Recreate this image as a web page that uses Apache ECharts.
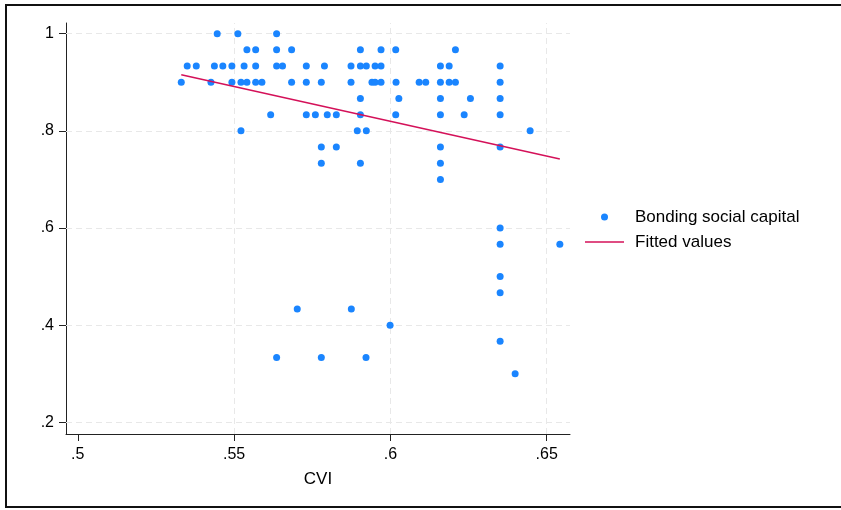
<!DOCTYPE html>
<html>
<head>
<meta charset="utf-8">
<script src="https://cdn.jsdelivr.net/npm/echarts@6/dist/echarts.min.js"></script>
<style>html,body{margin:0;padding:0;background:#fff;}#c{width:841px;height:510px;}</style>
</head>
<body>
<div id="c"></div>
<script>
// CVI (x) and Bonding social capital (y)
const cviValues = [
  0.5446, 0.5512, 0.5636,
  0.5541, 0.5569, 0.5636, 0.5684, 0.5904, 0.5970, 0.6017, 0.6208,
  0.5350, 0.5379, 0.5437, 0.5464, 0.5493, 0.5532, 0.5569, 0.5636, 0.5655, 0.5731, 0.5789, 0.5874, 0.5904, 0.5923, 0.5951, 0.5970, 0.6160, 0.6188, 0.6351,
  0.5331, 0.5426, 0.5493, 0.5522, 0.5541, 0.5569, 0.5589, 0.5684, 0.5731, 0.5779, 0.5874, 0.5941, 0.5951, 0.5970, 0.6018, 0.6092, 0.6113, 0.6160, 0.6188, 0.6208, 0.6351,
  0.5904, 0.6027, 0.6160, 0.6256, 0.6351,
  0.5617, 0.5731, 0.5760, 0.5798, 0.5827, 0.5904, 0.6017, 0.6160, 0.6236, 0.6351,
  0.5522, 0.5894, 0.5923, 0.6447,
  0.5779, 0.5827, 0.6160, 0.6351,
  0.5779, 0.5904, 0.6160,
  0.6160,
  0.6351,
  0.6351, 0.6542,
  0.6351,
  0.6351,
  0.5702, 0.5875,
  0.5999,
  0.6351,
  0.5636, 0.5779, 0.5922,
  0.6399
];
const bondingValues = [
  1.0, 1.0, 1.0,
  0.9667, 0.9667, 0.9667, 0.9667, 0.9667, 0.9667, 0.9667, 0.9667,
  0.9333, 0.9333, 0.9333, 0.9333, 0.9333, 0.9333, 0.9333, 0.9333, 0.9333, 0.9333, 0.9333, 0.9333, 0.9333, 0.9333, 0.9333, 0.9333, 0.9333, 0.9333, 0.9333,
  0.9, 0.9, 0.9, 0.9, 0.9, 0.9, 0.9, 0.9, 0.9, 0.9, 0.9, 0.9, 0.9, 0.9, 0.9, 0.9, 0.9, 0.9, 0.9, 0.9, 0.9,
  0.8667, 0.8667, 0.8667, 0.8667, 0.8667,
  0.8333, 0.8333, 0.8333, 0.8333, 0.8333, 0.8333, 0.8333, 0.8333, 0.8333, 0.8333,
  0.8, 0.8, 0.8, 0.8,
  0.7667, 0.7667, 0.7667, 0.7667,
  0.7333, 0.7333, 0.7333,
  0.7,
  0.6,
  0.5667, 0.5667,
  0.5,
  0.4667,
  0.4333, 0.4333,
  0.4,
  0.3667,
  0.3333, 0.3333, 0.3333,
  0.3
];
// Fitted values line (endpoints)
const fitCvi = [0.5331, 0.6542];
const fitValues = [0.9156, 0.742];

// Tick labels
const xTicks = [0.5, 0.55, 0.6, 0.65];
const yTicks = [0.2, 0.4, 0.6, 0.8, 1];
const xGrid = [0.55, 0.6, 0.65];
const yGrid = [0.2, 0.4, 0.6, 0.8, 1];

const scatterData = cviValues.map((x, i) => [x, bondingValues[i]]);
const fitData = fitCvi.map((x, i) => [x, fitValues[i]]);
const fmt = v => { const s = String(+v.toFixed(4)); return s.replace(/^0\./, '.'); };

const FONT = "'Liberation Sans', Arial, Helvetica, sans-serif";
const gridStyle = { color: '#e8e8e8', width: 1, type: [6, 4] };

const chart = echarts.init(document.getElementById('c'), null, { renderer: 'canvas' });
chart.setOption({
  animation: false,
  backgroundColor: '#fff',
  textStyle: { fontFamily: FONT },
  grid: { left: 66, top: 23, width: 504, height: 411, containLabel: false },
  xAxis: {
    type: 'value', min: 0.49623, max: 0.65745,
    name: 'CVI', nameLocation: 'middle', nameGap: 37,
    nameTextStyle: { fontSize: 17, color: '#000', fontFamily: FONT },
    axisLine: { show: true, lineStyle: { color: '#222', width: 1 } },
    axisTick: { show: true, length: 7, customValues: xTicks, lineStyle: { color: '#222' } },
    axisLabel: { customValues: xTicks, formatter: fmt, fontSize: 16, color: '#000', margin: 13, fontFamily: FONT },
    splitLine: { show: false }
  },
  yAxis: {
    type: 'value', min: 0.1759, max: 1.022,
    axisLine: { show: true, lineStyle: { color: '#222', width: 1 } },
    axisTick: { show: true, length: 7, customValues: yTicks, lineStyle: { color: '#222' } },
    axisLabel: { customValues: yTicks, formatter: fmt, fontSize: 16, color: '#000', margin: 12, fontFamily: FONT },
    splitLine: { show: false }
  },
  legend: {
    orient: 'vertical', left: 585, top: 207, padding: 0,
    itemWidth: 39, itemHeight: 7, itemGap: 5,
    data: [
      { name: 'Bonding social capital', icon: 'circle' },
      { name: 'Fitted values', icon: 'path://M0,0H100V4H0Z' }
    ],
    textStyle: { fontSize: 17, color: '#000', fontFamily: FONT, lineHeight: 20, padding: [0, 0, 0, 6] }
  },
  series: [
    {
      name: 'grid', type: 'line', data: [], z: 0, silent: true,
      markLine: {
        silent: true, symbol: 'none', label: { show: false }, z: 1,
        lineStyle: gridStyle, emphasis: { disabled: true },
        data: xGrid.map(v => ({ xAxis: v })).concat(yGrid.map(v => ({ yAxis: v })))
      }
    },
    {
      name: 'Bonding social capital', type: 'scatter', data: scatterData,
      symbol: 'circle', symbolSize: 7, z: 3,
      itemStyle: { color: '#1a85ff', opacity: 1 }
    },
    {
      name: 'Fitted values', type: 'line', data: fitData,
      symbol: 'none', showSymbol: false, z: 4,
      lineStyle: { color: '#d41159', width: 1.5 },
      itemStyle: { color: '#d41159' }
    }
  ],
  graphic: [
    { type: 'rect', shape: { x: 6, y: 5, width: 845, height: 502 },
      style: { fill: 'none', stroke: '#111', lineWidth: 2 }, silent: true, z: 10 }
  ]
});
</script>
</body>
</html>
